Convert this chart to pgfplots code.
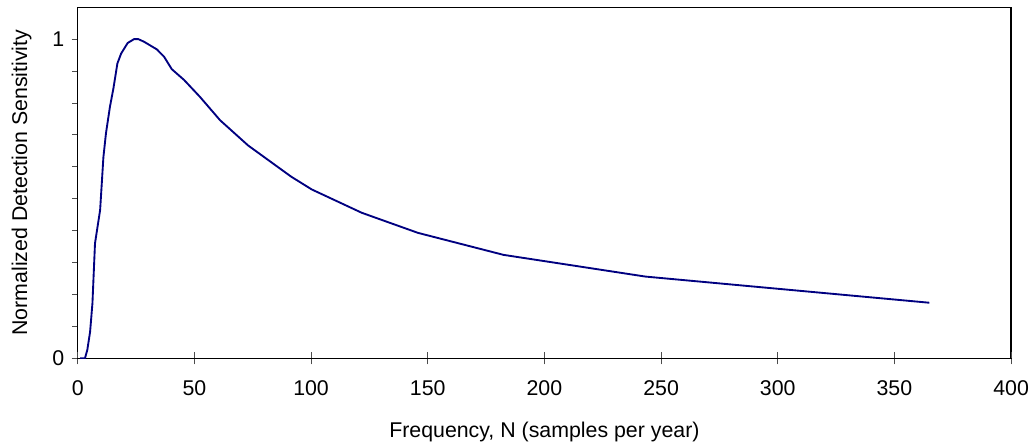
\documentclass[border=0pt]{standalone}
\usepackage{pgfplots}
\pgfplotsset{compat=1.18}
\usepackage{fontspec}
\setmainfont{Liberation Sans}

\definecolor{curve}{RGB}{0,0,128}

\begin{document}
\begin{tikzpicture}
\path[use as bounding box] (-58.3pt,-65pt) rectangle (717.2pt,268.7pt);
\begin{axis}[
    scale only axis,
    width=700pt, height=263.25pt,
    xmin=0, xmax=400, ymin=0, ymax=1.1,
    xtick={0,50,...,400},
    ytick={0,1},
    minor ytick={0.1,0.2,...,0.9},
    extra x ticks={0,50,...,400},
    extra x tick labels={},
    extra x tick style={tick align=inside},
    xtick pos=bottom, ytick pos=left,
    tick align=outside,
    major tick length=4.5pt, minor tick length=4pt,
    tick style={black!70, line width=0.7pt},
    axis line style={line width=1.1pt},
    /pgf/number format/assume math mode=true,
    tick label style={font=\fontsize{16}{19}\selectfont},
    xticklabel style={yshift=-9pt},
    yticklabel style={xshift=-2pt},
    xlabel={Frequency, N (samples per year)},
    ylabel={Normalized Detection Sensitivity},
    every axis x label/.style={at={(axis description cs:0.5,0)}, yshift=-55pt, anchor=center,
        font=\fontsize{16}{19}\selectfont},
    every axis y label/.style={at={(axis description cs:0,0.5)}, xshift=-42pt, rotate=90, anchor=center,
        font=\fontsize{16}{19}\selectfont},
]
\addplot[curve, line width=1.4pt] coordinates {
(1,0) (3.1,0) (4.1,0.026) (5.3,0.083) (6.3,0.172) (7.4,0.36) (9.6,0.465)
(11.0,0.63) (12.1,0.705) (13.8,0.788) (15.3,0.846) (17.0,0.924) (18.6,0.955)
(21.4,0.988) (24.1,1.0) (26.0,1.0) (28.4,0.992) (33.9,0.968) (37.0,0.945)
(40.3,0.906) (45.6,0.872) (52.4,0.819) (61.0,0.746) (73.0,0.667) (91.5,0.569)
(100.3,0.529) (121.7,0.456) (145.8,0.393) (182.5,0.324) (243.3,0.256) (365,0.174)
};
\end{axis}
\end{tikzpicture}
\end{document}
